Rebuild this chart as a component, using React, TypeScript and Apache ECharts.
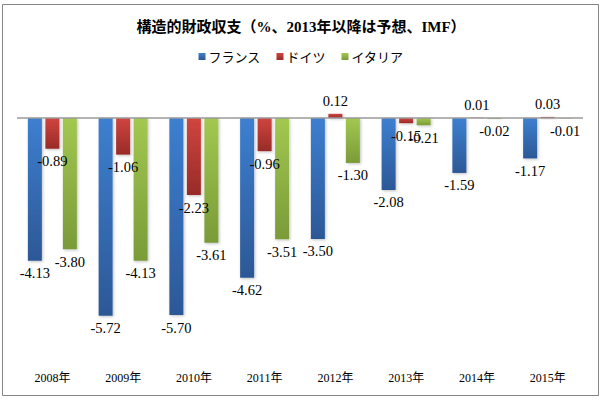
import React, { useEffect, useRef } from "react";
import * as echarts from "echarts";

const categories = ["2008年", "2009年", "2010年", "2011年", "2012年", "2013年", "2014年", "2015年"];
const seriesNames = ["フランス", "ドイツ", "イタリア"];
const france = [-4.13, -5.72, -5.7, -4.62, -3.5, -2.08, -1.59, -1.17];
const germany = [-0.89, -1.06, -2.23, -0.96, 0.12, -0.15, 0.01, 0.03];
const italy = [-3.8, -4.13, -3.61, -3.51, -1.3, -0.21, -0.02, -0.01];
const titleText = "構造的財政収支（%、2013年以降は予想、IMF）";

const palette = [
  ["#3D7FD0", "#2C5896"],
  ["#D0453F", "#982B28"],
  ["#A2C850", "#7A9B38"],
];

const grad = (c: string[]) =>
  new echarts.graphic.LinearGradient(0, 0, 0, 1, [
    { offset: 0, color: c[0] },
    { offset: 1, color: c[1] },
  ]);

export default function App() {
  const ref = useRef<HTMLDivElement>(null);
  useEffect(() => {
    document.body.style.margin = "0";
    if (!ref.current) return;
    const chart = echarts.init(ref.current, null, { renderer: "svg" });
    const all = [france, germany, italy];
    const series = all.map((vals, i) => ({
      name: seriesNames[i],
      type: "bar",
      barWidth: 14,
      barGap: "25%",
      itemStyle: {
        color: grad(palette[i]),
        shadowColor: "rgba(0,0,0,0.25)",
        shadowBlur: 3,
        shadowOffsetX: 1,
        shadowOffsetY: 1,
      },
      data: vals.map((v) => ({
        value: v,
        label: { position: v >= 0 ? "top" : "bottom" },
      })),
      label: {
        show: true,
        distance: 5,
        formatter: (p: any) => Number(p.value).toFixed(2),
        fontFamily: "Liberation Serif",
        fontSize: 14.5,
        color: "#000",
      },
      markLine:
        i === 0
          ? {
              silent: true,
              symbol: "none",
              label: { show: false },
              lineStyle: { color: "#9a9a9a", type: "solid", width: 1.5 },
              data: [{ yAxis: 0 }],
            }
          : undefined,
    }));
    chart.setOption({
      animation: false,
      color: palette.map((p) => p[0]),
      title: {
        text: titleText,
        left: "center",
        top: 14,
        textStyle: {
          fontFamily: "Liberation Serif, Noto Sans CJK JP",
          fontWeight: "bold",
          fontSize: 15,
          color: "#000",
        },
      },
      legend: {
        top: 45,
        left: "center",
        icon: "rect",
        itemWidth: 7,
        itemHeight: 7,
        itemGap: 16,
        textStyle: {
          fontFamily: "Noto Sans CJK JP",
          fontSize: 13,
          color: "#000",
          padding: [0, 0, 0, -2],
        },
        data: seriesNames,
      },
      graphic: [
        {
          type: "rect",
          shape: { x: 2.5, y: 4.5, width: 596, height: 391 },
          style: { fill: "none", stroke: "#858585", lineWidth: 1 },
          silent: true,
        },
      ],
      grid: { left: 17, right: 19, top: 83.4, bottom: 39 },
      xAxis: {
        type: "category",
        data: categories,
        axisLine: { show: false, onZero: false },
        axisTick: { show: false },
        axisLabel: {
          margin: 12,
          fontFamily: "Liberation Serif, Noto Sans CJK JP",
          fontSize: 12,
          color: "#000",
        },
      },
      yAxis: {
        type: "value",
        min: -7,
        max: 1,
        interval: 1,
        show: false,
        splitLine: { show: false },
      },
      series,
    });
    return () => chart.dispose();
  }, []);
  return <div ref={ref} style={{ width: 602, height: 399 }} />;
}
